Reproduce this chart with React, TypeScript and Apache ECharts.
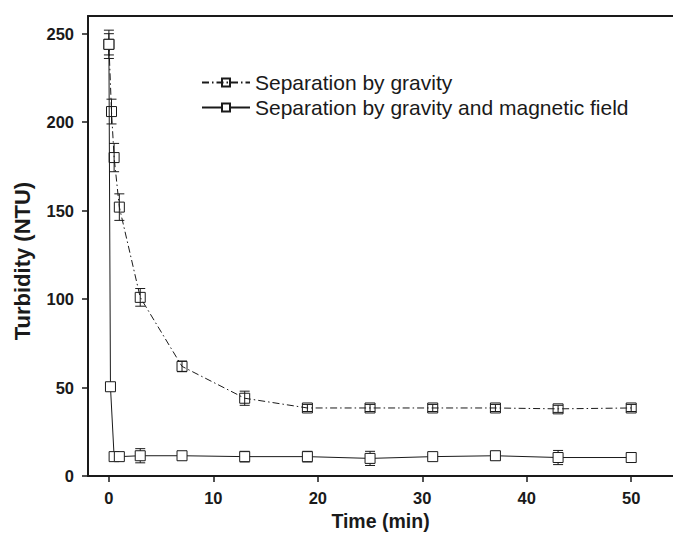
import React, { useEffect, useRef } from "react";
import * as echarts from "echarts";

// ---- Data ----
const timeGravity = [0, 0.25, 0.5, 1, 3, 7, 13, 19, 25, 31, 37, 43, 50];
const turbidityGravity = [244, 206, 180, 152, 101, 62, 44, 38.5, 38.5, 38.5, 38.5, 38, 38.5];
const errorGravity = [8, 7, 8, 7.5, 5, 3, 4, 2, 2, 2, 2, 2, 2];

const timeMagnetic = [0, 0.15, 0.5, 1, 3, 7, 13, 19, 25, 31, 37, 43, 50];
const turbidityMagnetic = [244, 50.5, 11, 11, 11.5, 11.5, 11, 11, 10, 11, 11.5, 10.5, 10.5];
const errorMagnetic = [6, 0, 0, 0, 4, 2, 3, 3, 4, 1, 2.5, 4, 2.5];

const xTicks = [0, 10, 20, 30, 40, 50];
const yTicks = [0, 50, 100, 150, 200, 250];

const seriesNames = ["Separation by gravity", "Separation by gravity and magnetic field"];

const FONT = '"Liberation Sans", Arial, Helvetica, sans-serif';
const INK = "#1a1a1a";

function errorBarRender(params: any, api: any) {
  const x = api.value(0);
  const lo = api.value(1);
  const hi = api.value(2);
  if (hi - lo <= 0) return null;
  const pLo = api.coord([x, lo]);
  const pHi = api.coord([x, hi]);
  const w = 5;
  const style = { stroke: INK, lineWidth: 1 };
  return {
    type: "group",
    children: [
      { type: "line", shape: { x1: pHi[0], y1: pHi[1], x2: pLo[0], y2: pLo[1] }, style },
      { type: "line", shape: { x1: pHi[0] - w, y1: pHi[1], x2: pHi[0] + w, y2: pHi[1] }, style },
      { type: "line", shape: { x1: pLo[0] - w, y1: pLo[1], x2: pLo[0] + w, y2: pLo[1] }, style },
    ],
  };
}

export default function App() {
  const ref = useRef<HTMLDivElement>(null);

  useEffect(() => {
    document.body.style.margin = "0";
    if (!ref.current) return;
    const chart = echarts.init(ref.current, undefined, { renderer: "svg" });

    const gravityData = timeGravity.map((t, i) => [t, turbidityGravity[i]]);
    const magneticData = timeMagnetic.map((t, i) => [t, turbidityMagnetic[i]]);
    const gravityErr = timeGravity.map((t, i) => [
      t,
      turbidityGravity[i] - errorGravity[i],
      turbidityGravity[i] + errorGravity[i],
    ]);
    const magneticErr = timeMagnetic.map((t, i) => [
      t,
      turbidityMagnetic[i] - errorMagnetic[i],
      turbidityMagnetic[i] + errorMagnetic[i],
    ]);

    const axisLabelStyle = { color: INK, fontFamily: FONT, fontWeight: "bold" as const, fontSize: 16.5 };

    chart.setOption({
      animation: false,
      backgroundColor: "#ffffff",
      grid: { left: 88, top: 16, right: -2, bottom: 58, containLabel: false },
      legend: {
        data: seriesNames,
        orient: "vertical",
        left: 196,
        top: 67,
        itemWidth: 48,
        itemHeight: 10,
        itemGap: 4,
        textStyle: { color: INK, fontFamily: FONT, fontSize: 21 },
      },
      xAxis: [
        {
          type: "value",
          min: -2,
          max: 54,
          name: "Time (min)",
          nameLocation: "middle",
          nameGap: 34,
          nameTextStyle: { color: INK, fontFamily: FONT, fontWeight: "bold", fontSize: 19.5 },
          axisLine: { show: true, onZero: false, lineStyle: { color: INK, width: 2 } },
          axisTick: { show: true, length: 6, inside: false, customValues: xTicks, lineStyle: { color: INK, width: 1.5 } },
          axisLabel: { ...axisLabelStyle, margin: 13, customValues: xTicks },
          splitLine: { show: false },
        },
        {
          type: "value",
          position: "top",
          min: -2,
          max: 54,
          axisLine: { show: true, onZero: false, lineStyle: { color: INK, width: 2 } },
          axisTick: { show: false },
          axisLabel: { show: false },
          splitLine: { show: false },
        },
      ],
      yAxis: {
        type: "value",
        min: 0,
        max: 260,
        name: "Turbidity (NTU)",
        nameLocation: "middle",
        nameGap: 55,
        nameTextStyle: { color: INK, fontFamily: FONT, fontWeight: "bold", fontSize: 22, padding: [0, 30, 0, 0] },
        axisLine: { show: true, onZero: false, lineStyle: { color: INK, width: 2 } },
        axisTick: { show: true, length: 6, inside: false, customValues: yTicks, lineStyle: { color: INK, width: 1.5 } },
        axisLabel: { ...axisLabelStyle, margin: 14, customValues: yTicks },
        splitLine: { show: false },
      },
      series: [
        {
          name: seriesNames[0],
          type: "line",
          data: gravityData,
          symbol: "rect",
          symbolSize: 10,
          lineStyle: { color: INK, width: 1, type: [7, 3, 1.5, 3] },
          itemStyle: { color: "rgba(255,255,255,0)", borderColor: INK, borderWidth: 1 },
          z: 3,
        },
        {
          name: seriesNames[1],
          type: "line",
          data: magneticData,
          symbol: "rect",
          symbolSize: 10,
          lineStyle: { color: INK, width: 1, type: "solid" },
          itemStyle: { color: "#ffffff", borderColor: INK, borderWidth: 1 },
          z: 4,
        },
        {
          name: "gravity error",
          type: "custom",
          data: gravityErr,
          encode: { x: 0, y: [1, 2] },
          renderItem: errorBarRender,
          z: 2,
        },
        {
          name: "magnetic error",
          type: "custom",
          data: magneticErr,
          encode: { x: 0, y: [1, 2] },
          renderItem: errorBarRender,
          z: 2,
        },
      ],
    });

    return () => chart.dispose();
  }, []);

  return <div ref={ref} style={{ width: 673, height: 536 }} />;
}
